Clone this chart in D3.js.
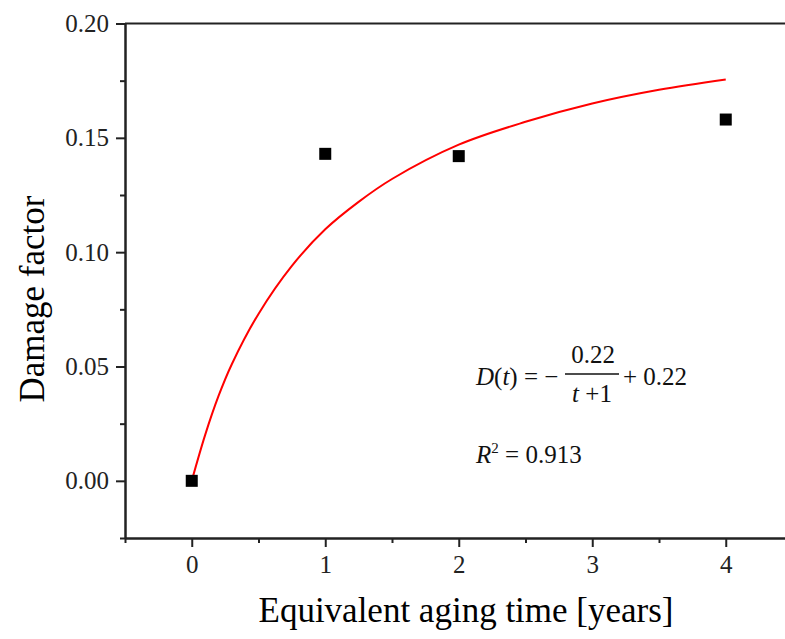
<!DOCTYPE html>
<meta charset="utf-8">
<style>
body { margin: 0; background: #fff; }
svg text { font-family: "Liberation Serif", "Times New Roman", serif; }
</style>
<svg width="785" height="639"></svg>
<script src="https://d3js.org/d3.v7.min.js"></script>
<script>

// measured points
var pointT = [0, 1, 2, 4];
var pointD = [0.0, 0.143, 0.142, 0.158];

// fitted curve
var curveT = [0, 0.1, 0.2, 0.3, 0.5, 0.75, 1, 1.25, 1.5, 2, 2.5, 3, 3.5, 4];
var curveD = [0, 0.020, 0.037, 0.051, 0.073, 0.094, 0.110, 0.122, 0.132, 0.147, 0.157, 0.165, 0.171, 0.1755];

var xTicks = [0, 1, 2, 3, 4];
var xMinor = [-0.5, 0.5, 1.5, 2.5, 3.5, 4.5];
var yTicks = [0, 0.05, 0.10, 0.15, 0.20];
var yMinor = [-0.025, 0.025, 0.075, 0.125, 0.175];

var svg = d3.select("svg"),
    plotLeft = 125, plotRight = 792.5, plotTop = 23.5, plotBottom = 538;

var x = d3.scaleLinear().domain([-0.5, 4.5]).range([plotLeft, plotRight]),
    y = d3.scaleLinear().domain([-0.025, 0.2]).range([plotBottom, plotTop]);

function styleAxis(g) {
  g.attr("font-family", "Liberation Serif");
  g.selectAll("path, line").attr("stroke", "#222").attr("stroke-width", 2);
  g.selectAll("text").attr("fill", "#222").style("font-size", "25px");
}

// minor ticks
svg.append("g")
    .attr("transform", "translate(0," + plotBottom + ")")
    .call(d3.axisBottom(x).tickValues(xMinor).tickSize(5).tickSizeOuter(0).tickFormat(""))
    .call(styleAxis);
svg.append("g")
    .attr("transform", "translate(" + plotLeft + ",0)")
    .call(d3.axisLeft(y).tickValues(yMinor).tickSize(5).tickSizeOuter(0).tickFormat(""))
    .call(styleAxis);

svg.append("g")
    .attr("transform", "translate(0," + plotBottom + ")")
    .call(d3.axisBottom(x).tickValues(xTicks).tickSize(9).tickSizeOuter(0).tickPadding(8).tickFormat(d3.format("d")))
    .call(styleAxis);

svg.append("g")
    .attr("transform", "translate(" + plotLeft + ",0)")
    .call(d3.axisLeft(y).tickValues(yTicks).tickSize(9).tickSizeOuter(0).tickPadding(7).tickFormat(d3.format(".2f")))
    .call(styleAxis);

// top and right border
svg.append("line")
    .attr("x1", plotLeft).attr("x2", plotRight)
    .attr("y1", plotTop).attr("y2", plotTop)
    .attr("stroke", "#222").attr("stroke-width", 2);
svg.append("line")
    .attr("x1", plotRight).attr("x2", plotRight)
    .attr("y1", plotTop).attr("y2", plotBottom)
    .attr("stroke", "#222").attr("stroke-width", 2);

var line = d3.line()
    .x(function(d, i) { return x(curveT[i]); })
    .y(function(d) { return y(d); })
    .curve(d3.curveCatmullRom);

svg.append("path")
    .datum(curveD)
    .attr("d", line)
    .attr("fill", "none")
    .attr("stroke", "#f00")
    .attr("stroke-width", 2);

svg.selectAll(".pt")
    .data(pointD)
    .enter().append("rect")
      .attr("class", "pt")
      .attr("x", function(d, i) { return x(pointT[i]) - 6; })
      .attr("y", function(d) { return y(d) - 6; })
      .attr("width", 12)
      .attr("height", 12)
      .attr("fill", "#000");

// axis titles
svg.append("text")
    .attr("x", 466).attr("y", 622)
    .attr("text-anchor", "middle")
    .style("font-size", "35px")
    .text("Equivalent aging time [years]");

svg.append("text")
    .attr("transform", "translate(44,299) rotate(-90)")
    .attr("text-anchor", "middle")
    .style("font-size", "35px")
    .text("Damage factor");

// equation
var eq = svg.append("g").style("font-size", "25px").attr("fill", "#111");
var t1 = eq.append("text").attr("x", 476).attr("y", 385);
t1.append("tspan").style("font-style", "italic").text("D");
t1.append("tspan").text("(");
t1.append("tspan").style("font-style", "italic").text("t");
t1.append("tspan").text(") = \u2212");
eq.append("text").attr("x", 593).attr("y", 363).attr("text-anchor", "middle").text("0.22");
eq.append("line").attr("x1", 565).attr("x2", 619).attr("y1", 374).attr("y2", 374)
    .attr("stroke", "#111").attr("stroke-width", 1.3);
var den = eq.append("text").attr("x", 592).attr("y", 402).attr("text-anchor", "middle");
den.append("tspan").style("font-style", "italic").text("t");
den.append("tspan").text(" +1");
eq.append("text").attr("x", 623).attr("y", 385).text("+ 0.22");

var r2 = eq.append("text").attr("x", 476).attr("y", 463);
r2.append("tspan").style("font-style", "italic").text("R");
r2.append("tspan").attr("dy", -10).style("font-size", "15px").text("2");
r2.append("tspan").attr("dy", 10).text(" = 0.913");

</script>
